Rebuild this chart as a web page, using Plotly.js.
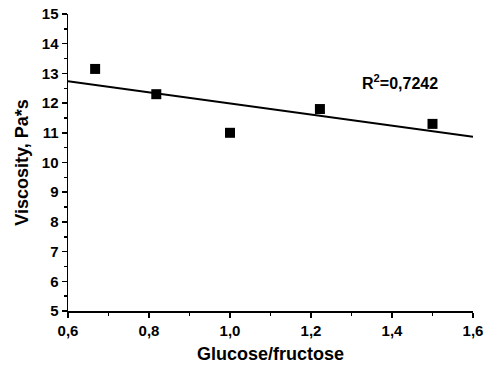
<!DOCTYPE html>
<html>
<head>
<meta charset="utf-8">
<script src="https://cdn.plot.ly/plotly-3.0.1.min.js"></script>
<style>html,body{margin:0;padding:0;background:#fff;}#chart{width:486px;height:371px;}</style>
</head>
<body>
<div id="chart"></div>
<script>
var ratio = [0.667, 0.818, 1.0, 1.222, 1.5];
var viscosity = [13.15, 12.3, 11.0, 11.8, 11.3];
var fitX = [0.6, 1.6];
var xTickVals = [0.6, 0.8, 1.0, 1.2, 1.4, 1.6];
var xTickText = ["0,6", "0,8", "1,0", "1,2", "1,4", "1,6"];
var yTickVals = [5, 6, 7, 8, 9, 10, 11, 12, 13, 14, 15];
var yTickText = ["5", "6", "7", "8", "9", "10", "11", "12", "13", "14", "15"];
var r2Label = "R<sup>2</sup>=0,7242";

// least-squares fit
var n = ratio.length, mx = 0, my = 0;
for (var i = 0; i < n; i++) { mx += ratio[i]; my += viscosity[i]; }
mx /= n; my /= n;
var sxy = 0, sxx = 0;
for (var i = 0; i < n; i++) { sxy += (ratio[i]-mx)*(viscosity[i]-my); sxx += (ratio[i]-mx)*(ratio[i]-mx); }
var slope = sxy / sxx, icpt = my - slope * mx;
var fitY = fitX.map(function(x){ return icpt + slope * x; });

function bold(a){ return a.map(function(t){ return "<b>" + t + "</b>"; }); }

var fam = "Liberation Sans, Arial, sans-serif";
var data = [
  {x: fitX, y: fitY, mode: "lines", line: {color: "#000", width: 2}, hoverinfo: "skip"},
  {x: ratio, y: viscosity, mode: "markers", marker: {symbol: "square", size: 10, color: "#000"}}
];
var layout = {
  width: 486, height: 371,
  margin: {l: 68, r: 13, t: 14, b: 60},
  showlegend: false,
  paper_bgcolor: "#fff", plot_bgcolor: "#fff",
  font: {family: fam, color: "#000"},
  xaxis: {
    range: [0.6, 1.6], tickmode: "array", tickvals: xTickVals, ticktext: bold(xTickText),
    showgrid: false, zeroline: false, showline: true, linecolor: "#000", linewidth: 1.5,
    ticks: "outside", ticklen: 5, tickwidth: 1.5, tickcolor: "#000",
    minor: {dtick: 0.1, ticks: "outside", ticklen: 3, tickwidth: 1.5, tickcolor: "#000"},
    tickfont: {family: fam, size: 15, color: "#000"},
    title: {text: "<b>Glucose/fructose</b>", font: {family: fam, size: 18, color: "#000"}, standoff: 10}
  },
  yaxis: {
    range: [5, 15], tickmode: "array", tickvals: yTickVals, ticktext: bold(yTickText),
    showgrid: false, zeroline: false, showline: true, linecolor: "#000", linewidth: 1.5,
    ticks: "outside", ticklen: 5, tickwidth: 1.5, tickcolor: "#000",
    minor: {dtick: 0.5, ticks: "outside", ticklen: 3, tickwidth: 1.5, tickcolor: "#000"},
    tickfont: {family: fam, size: 15, color: "#000"},
    title: {text: "<b>Viscosity, Pa*s</b>", font: {family: fam, size: 18, color: "#000"}, standoff: 8}
  },
  annotations: [{
    x: 1.42, y: 12.72, xref: "x", yref: "y", text: "<b>" + r2Label + "</b>", showarrow: false,
    font: {family: fam, size: 16, color: "#000"}
  }]
};
Plotly.newPlot("chart", data, layout, {displayModeBar: false, staticPlot: true});
</script>
</body>
</html>
